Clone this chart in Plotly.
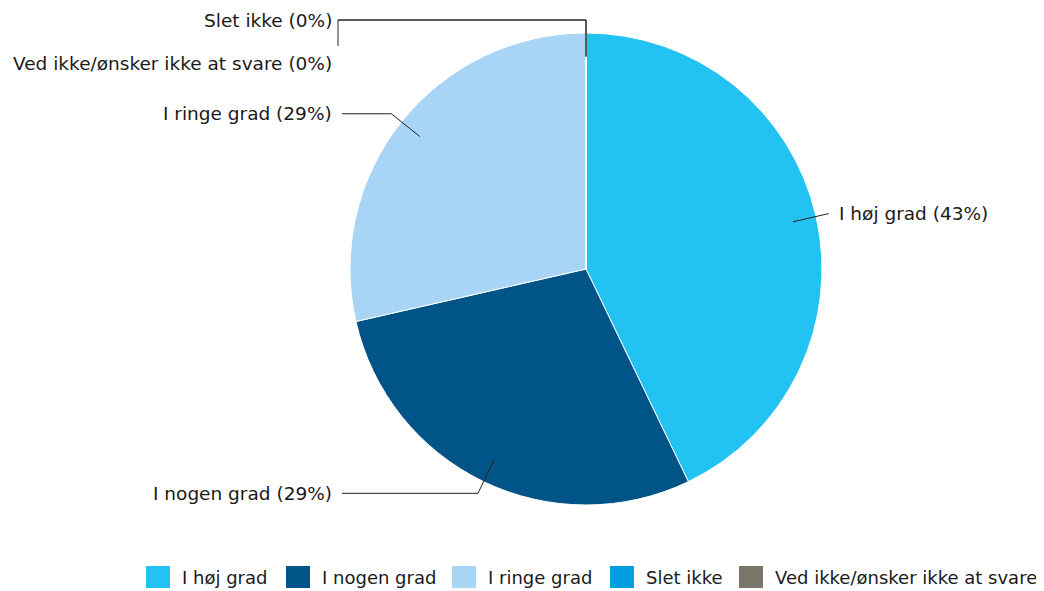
import math
import plotly.graph_objects as go

categories = ["I høj grad", "I nogen grad", "I ringe grad", "Slet ikke", "Ved ikke/ønsker ikke at svare"]
values = [3, 2, 2, 0, 0]
colors = ["#22C3F3", "#005487", "#A8D5F5", "#009FDF", "#78776A"]

# page body has an 8px margin; work in window pixels and convert
OFF = 8
W, H = 1036, 583
CX, CY, R = 586, 269, 236
FONT = "DejaVu Sans"
FS = 18.5
FS_LEG = 18
TXT = "#1a1a1a"

def px(x):
    return (x - OFF) / W

def py(y):
    return 1 - (y - OFF) / H

fig = go.Figure(go.Pie(
    labels=categories, values=values, sort=False, direction="clockwise", rotation=0,
    marker=dict(colors=colors, line=dict(color="white", width=1)),
    textinfo="none", hoverinfo="label+percent", showlegend=False,
    domain=dict(x=[px(CX - R), px(CX + R)], y=[py(CY + R), py(CY - R)]),
))

total = sum(values)
shapes = []
annotations = []
line_style = dict(color="#222222", width=1)

def seg(x0, y0, x1, y1):
    shapes.append(dict(type="line", xref="paper", yref="paper",
                       x0=px(x0), y0=py(y0), x1=px(x1), y1=py(y1), line=line_style))

def label_at(x, y, text, anchor, size=FS):
    annotations.append(dict(x=px(x), y=py(y), xref="paper", yref="paper",
                            text=text, showarrow=False, xanchor=anchor, yanchor="middle",
                            font=dict(family=FONT, size=size, color=TXT)))

cum = 0
left_x_line = 342
left_x_text = 334
for i, (cat, v) in enumerate(zip(categories, values)):
    mid = (cum + v / 2) / total * 2 * math.pi
    cum += v
    pct = round(v / total * 100)
    label = f"{cat} ({pct}%)"
    sx, sy = CX + 0.9 * R * math.sin(mid), CY - 0.9 * R * math.cos(mid)
    ex, ey = CX + 1.055 * R * math.sin(mid), CY - 1.055 * R * math.cos(mid)
    if v == 0:
        seg(sx, sy, ex, ey)
        seg(ex, ey, 338, ey)
        k = i - 3
        if k == 0:
            ty = ey
        else:
            ty = ey + 43 * k
            seg(338, ey, 338, ey + 26 * k)
        label_at(left_x_text, ty, label, "right")
        continue
    seg(sx, sy, ex, ey)
    if math.sin(mid) >= 0:
        label_at(ex + 8, ey, label, "left")
    else:
        seg(ex, ey, left_x_line, ey)
        label_at(left_x_text, ey, label, "right")

# custom legend
legend_x = [146, 286, 452, 610, 739]
LY = 577
for cat, col, lx in zip(categories, colors, legend_x):
    shapes.append(dict(type="rect", xref="paper", yref="paper",
                       x0=px(lx), x1=px(lx + 24), y0=py(LY + 11), y1=py(LY - 11),
                       fillcolor=col, line=dict(width=0)))
    label_at(lx + 34, LY, cat, "left", FS_LEG)

fig.update_layout(
    width=W, height=H, margin=dict(l=0, r=0, t=0, b=0),
    paper_bgcolor="white", plot_bgcolor="white",
    shapes=shapes, annotations=annotations,
)
fig.write_html("out.html")
